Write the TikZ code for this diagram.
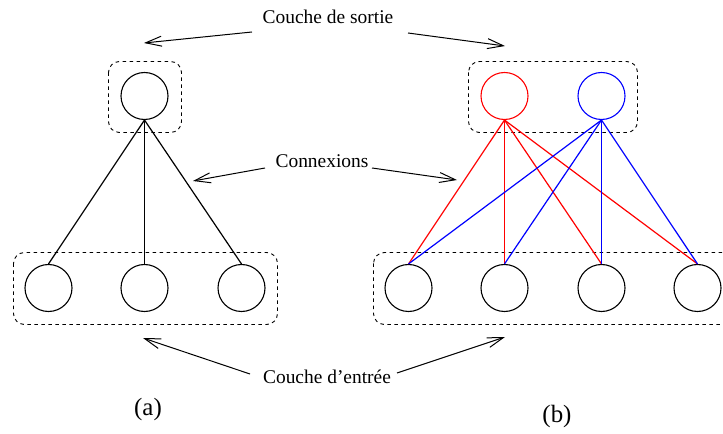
\documentclass[tikz,border=0pt]{standalone}
\usepackage{fontspec}
\setmainfont{Liberation Serif}
\usetikzlibrary{arrows.meta}
\begin{document}
\begin{tikzpicture}[x=1bp,y=-1bp,
  neuron/.style={circle,draw,line width=1.1bp,minimum size=47bp,inner sep=0pt},
  layerbox/.style={draw,dash pattern=on 3.5bp off 3.5bp,rounded corners=11bp,line width=0.9bp},
  lab/.style={font=\fontsize{19.5}{22}\selectfont,inner sep=0pt},
  sublab/.style={font=\fontsize{25}{28}\selectfont,inner sep=0pt},
  ptr/.style={-{Straight Barb[length=16bp,width=10bp]},line width=1bp},
  conn/.style={line width=1.2bp}]
\useasboundingbox (0,0) rectangle (723,434);
% layer boxes
\draw[layerbox] (108.5,61.5) rectangle (181.5,132.5);
\draw[layerbox] (13.5,252.5) rectangle (277.5,324.5);
\draw[layerbox] (468.5,61.5) rectangle (637.5,132.5);
\draw[layerbox] (373.5,252.5) rectangle (733.5,324.5);
% (a) neurons
\node[neuron] (ao) at (144.5,96) {};
\node[neuron] (ai1) at (48.5,288) {};
\node[neuron] (ai2) at (144.5,288) {};
\node[neuron] (ai3) at (241.5,288) {};
% (b) neurons
\node[neuron,draw=red] (bo1) at (504.5,96) {};
\node[neuron,draw=blue] (bo2) at (601.5,96) {};
\node[neuron] (bi1) at (408.5,288) {};
\node[neuron] (bi2) at (504.5,288) {};
\node[neuron] (bi3) at (601.5,288) {};
\node[neuron] (bi4) at (697.5,288) {};
% connections (a)
\foreach \i in {1,2,3} \draw[conn] (ao.south) -- (ai\i.north);
% connections (b)
\foreach \i in {1,2,3,4} \draw[conn,red] (bo1.south) -- (bi\i.north);
\foreach \i in {1,2,3,4} \draw[conn,blue] (bo2.south) -- (bi\i.north);
% labels
\node[lab] (ls) at (328,17) {Couche de sortie};
\node[lab] (lc) at (322,161) {Connexions};
\node[lab] (le) at (327,377) {Couche d’entrée};
\node[sublab] (ca) at (148,410) {(a)};
\node[sublab] (cb) at (557,417) {(b)};
% pointer ends
\coordinate (s1) at (252,32);  \coordinate (t1) at (144,43);
\coordinate (s2) at (408,33);  \coordinate (t2) at (505,46);
\coordinate (s3) at (265,168); \coordinate (t3) at (193,181);
\coordinate (s4) at (372,168); \coordinate (t4) at (457,180);
\coordinate (s5) at (250,374); \coordinate (t5) at (143,338);
\coordinate (s6) at (397,373); \coordinate (t6) at (505,337);
\foreach \k in {1,...,6} \draw[ptr] (s\k) -- (t\k);
\end{tikzpicture}
\end{document}
